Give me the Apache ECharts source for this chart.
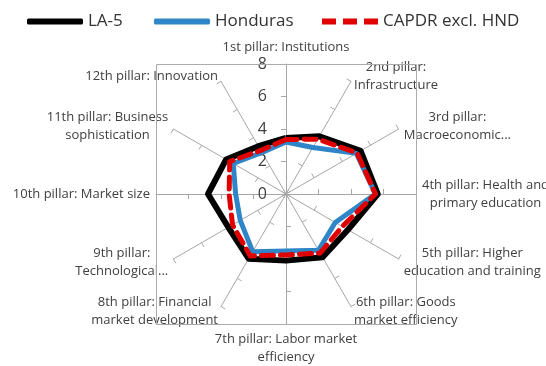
<!DOCTYPE html>
<html>
<head>
<meta charset="utf-8">
<script src="https://cdn.jsdelivr.net/npm/echarts@6/dist/echarts.min.js"></script>
<style>
  html, body { margin: 0; padding: 0; background: #fff; }
  #main { width: 546px; height: 366px; }
</style>
</head>
<body>
<div id="main"></div>
<script>
// pillars, in clockwise order starting at the top
var pillars = [
  '1st pillar: Institutions',
  '2nd pillar:\nInfrastructure',
  '3rd pillar:\nMacroeconomic...',
  '4th pillar: Health and\nprimary education',
  '5th pillar: Higher\neducation and training',
  '6th pillar: Goods\nmarket efficiency',
  '7th pillar: Labor market\nefficiency',
  '8th pillar: Financial\nmarket development',
  '9th pillar:\nTechnological...',
  '10th pillar: Market size',
  '11th pillar: Business\nsophistication',
  '12th pillar: Innovation'
];
var la5      = [3.45, 4.1, 5.3, 5.65, 4.4, 4.5, 4.1, 4.6, 4.1, 4.8, 4.25, 3.4];
var honduras = [3.2, 3.3, 5.0, 5.5, 3.5, 4.0, 3.5, 4.1, 3.25, 3.1, 3.75, 2.95];
var capdr    = [3.35, 3.9, 5.05, 5.5, 4.0, 4.2, 3.75, 4.4, 3.8, 3.5, 4.0, 3.1];
var seriesNames = ['LA-5', 'Honduras', 'CAPDR excl. HND'];
var scaleMax = 8;

var cx = 286, cy = 194, R = 130;
var textColor = '#404040';
var gridColor = '#A6A6A6';
var font = 'Open Sans';

// echarts lays radar axes out counter-clockwise, so flip the order (keep the first one on top)
function cw(arr) {
  return [arr[0]].concat(arr.slice(1).reverse());
}

var indicators = cw(pillars).map(function (p, i) {
  var o = { name: p, max: scaleMax, min: 0 };
  if (i === 0) {
    // only the vertical axis carries the 0..8 labels
    o.axisLabel = { show: true, fontSize: 16, color: textColor, margin: 19,
      fontFamily: font, padding: [6, 0, 0, 0] };
  }
  return o;
});

// one legend per item so each one sits where the original has it (legend padding adds 5)
var legendLeft = [22, 149, 317];
var legendIcon = ['roundRect', 'roundRect', 'path://M0,0h14v6h-14z M21,0h14v6h-14z M42,0h14v6h-14z'];
var legends = seriesNames.map(function (n, i) {
  return {
    left: legendLeft[i],
    top: 8,
    itemWidth: 56,
    itemHeight: 6,
    itemGap: 6,
    textStyle: { fontSize: 17, color: '#333', fontFamily: font },
    data: [{ name: n, icon: legendIcon[i] }]
  };
});

// plot area frame: four edges of the square around the radar
var x0 = cx - R + 0.5, x1 = cx + R + 0.5, y0 = cy - R + 0.5, y1 = cy + R + 0.5;
var frame = [[x0, y0, x1, y0], [x1, y0, x1, y1], [x1, y1, x0, y1], [x0, y1, x0, y0]].map(function (s) {
  return {
    type: 'line',
    silent: true,
    z: 1,
    shape: { x1: s[0], y1: s[1], x2: s[2], y2: s[3] },
    style: { stroke: '#ABABAB', lineWidth: 1 }
  };
});

var chart = echarts.init(document.getElementById('main'), null, { renderer: 'canvas' });
chart.setOption({
  animation: false,
  legend: legends,
  radar: {
    center: [cx, cy],
    radius: R,
    startAngle: 90,
    splitNumber: 4,
    shape: 'polygon',
    indicator: indicators,
    nameGap: 6,
    axisName: {
      color: textColor,
      fontSize: 13,
      fontFamily: font,
      lineHeight: 18,
      formatter: function (name) {
        return name.split('\n').map(function (l) { return '{c|' + l + '}'; }).join('\n');
      },
      rich: {
        c: { align: 'center', fontSize: 13, lineHeight: 18, color: textColor, fontFamily: font }
      }
    },
    axisLine: { show: true, lineStyle: { color: gridColor, width: 1 } },
    axisTick: { show: true, inside: true, length: 5, lineStyle: { color: gridColor, width: 1 } },
    axisLabel: { show: false },
    splitLine: { show: false },
    splitArea: { show: false }
  },
  graphic: frame,
  series: [{
    type: 'radar',
    symbol: 'none',
    emphasis: { disabled: true },
    data: [
      { name: seriesNames[0], value: cw(la5),
        itemStyle: { color: '#000000' },
        lineStyle: { color: '#000000', width: 6, join: 'round' } },
      { name: seriesNames[1], value: cw(honduras),
        itemStyle: { color: '#2E86C8' },
        lineStyle: { color: '#2E86C8', width: 5, join: 'round' } },
      { name: seriesNames[2], value: cw(capdr),
        itemStyle: { color: '#E00000' },
        lineStyle: { color: '#E00000', width: 5, type: [12, 7], cap: 'round', join: 'round' } }
    ]
  }]
});
</script>
</body>
</html>
